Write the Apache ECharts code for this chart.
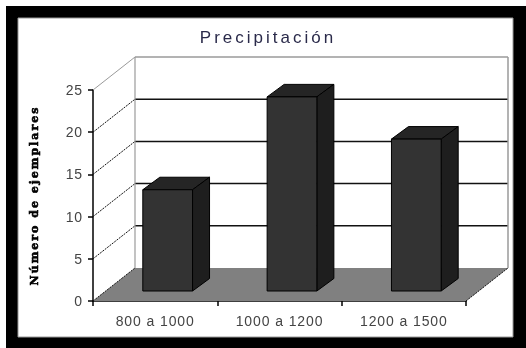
<!DOCTYPE html>
<html><head><meta charset="utf-8">
<style>
html,body{margin:0;padding:0;background:#fff}
#c{width:526px;height:348px;filter:blur(0.6px)}
#c text[style*="17px"]{letter-spacing:3px}
#c text[style*="14px"]{letter-spacing:0.9px}
#c text[style*="11px"]{letter-spacing:2px}
</style>
<script src="https://cdn.jsdelivr.net/npm/echarts@6/dist/echarts.min.js"></script>
</head><body><div id="c"></div>
<script>
const titleText = 'Precipitación';
const yName = 'Número de ejemplares';
const categories = ['800 a 1000', '1000 a 1200', '1200 a 1500'];
const counts = [12, 23, 18];
const yTicks = [0, 5, 10, 15, 20, 25];

const wallDx = 42, wallDy = 33, barDx = 17, barDy = 12.5, barShiftX = 12.5, barShiftY = 10;
const chart = echarts.init(document.getElementById('c'), null, {renderer: 'svg'});

function floorItem(params, api) {
  const g = params.coordSys, b = g.y + g.height, r = g.x + g.width;
  return {type: 'polygon', shape: {points: [[g.x, b], [g.x + wallDx, b - wallDy], [r + wallDx, b - wallDy], [r, b]]},
    style: {fill: '#808080', stroke: null}};
}
function wallItem(params, api) {
  const g = params.coordSys;
  const v = api.value(0), y = api.coord([0, v])[1];
  const top = v === yTicks[yTicks.length - 1];
  const color = top ? '#9a9a9a' : '#111';
  const children = [
    {type: 'line', shape: {x1: g.x, y1: y, x2: g.x + wallDx, y2: y - wallDy}, style: {stroke: color, lineWidth: 1, lineDash: top ? null : [2, 1]}}
  ];
  if (v !== yTicks[0]) children.push({type: 'line', shape: {x1: g.x + wallDx, y1: y - wallDy, x2: g.x + g.width + wallDx, y2: y - wallDy},
    style: {stroke: color, lineWidth: top ? 1.5 : 1.5}});
  if (v === yTicks[0]) children.push({type: 'line', shape: {x1: g.x + g.width, y1: y, x2: g.x + g.width + wallDx, y2: y - wallDy},
    style: {stroke: '#111', lineWidth: 1, lineDash: [2, 1]}});
  if (top) {
    children.push({type: 'line', shape: {x1: g.x + wallDx, y1: y - wallDy, x2: g.x + wallDx, y2: g.y + g.height - wallDy}, style: {stroke: '#9a9a9a', lineWidth: 1.2}});
    children.push({type: 'line', shape: {x1: g.x + g.width + wallDx, y1: y - wallDy, x2: g.x + g.width + wallDx, y2: g.y + g.height - wallDy}, style: {stroke: '#9a9a9a', lineWidth: 1.5}});
  }
  return {type: 'group', children};
}
function barItem(params, api) {
  const c = api.coord([api.value(0), api.value(1)]);
  const base = api.coord([api.value(0), 0])[1] - barShiftY;
  const w = api.size([1, 0])[0] * 0.4;
  const x0 = c[0] + barShiftX - w / 2, x1 = x0 + w, t = c[1] - barShiftY;
  const edge = {stroke: '#000', lineWidth: 1};
  return {type: 'group', children: [
    {type: 'polygon', shape: {points: [[x0, t], [x0 + barDx, t - barDy], [x1 + barDx, t - barDy], [x1, t]]}, style: {fill: '#252525', ...edge}},
    {type: 'polygon', shape: {points: [[x1, t], [x1 + barDx, t - barDy], [x1 + barDx, base - barDy], [x1, base]]}, style: {fill: '#1e1e1e', ...edge}},
    {type: 'rect', shape: {x: x0, y: t, width: w, height: base - t}, style: {fill: '#333333', ...edge}}
  ]};
}

chart.setOption({
  animation: false,
  backgroundColor: '#fff',
  graphic: [
    {type: 'rect', z: -10, shape: {x: 6, y: 6, width: 520, height: 342}, style: {fill: '#000'}},
    {type: 'rect', z: -9, shape: {x: 18, y: 18, width: 495, height: 319}, style: {fill: '#fff', stroke: '#999', lineWidth: 1}}
  ],
  title: {text: titleText, left: 263, top: 24, textAlign: 'center',
    textStyle: {fontFamily: 'Liberation Sans', fontSize: 17, fontWeight: 'normal', color: '#2a2a4a'}},
  grid: {left: 93, right: 60, top: 90, bottom: 47},
  xAxis: {type: 'category', data: categories,
    axisLine: {lineStyle: {color: '#000', width: 1.5}},
    axisTick: {show: true, length: 5, lineStyle: {color: '#000', width: 1.5}},
    axisLabel: {fontFamily: 'Liberation Sans', fontSize: 14, color: '#444', margin: 13}},
  yAxis: {type: 'value', min: 0, max: 25, interval: 5,
    name: yName, nameLocation: 'middle', nameRotate: 90, nameGap: 53,
    nameTextStyle: {fontFamily: 'DejaVu Serif', fontSize: 11, fontWeight: 'bold', color: '#000', textBorderColor: '#000', textBorderWidth: 0.6},
    splitLine: {show: false},
    axisLine: {show: true, lineStyle: {color: '#000', width: 1.5}},
    axisTick: {show: true, length: 5, lineStyle: {color: '#000', width: 1.5}},
    axisLabel: {fontFamily: 'Liberation Sans', fontSize: 14, color: '#444', margin: 10}},
  series: [
    {type: 'custom', z: 1, silent: true, renderItem: floorItem, data: [[0]], encode: {y: 0}},
    {type: 'custom', z: 2, silent: true, renderItem: wallItem, data: yTicks.map(v => [v]), encode: {y: 0}},
    {type: 'custom', z: 3, silent: true, renderItem: barItem, data: categories.map((c, i) => [c, counts[i]]), encode: {x: 0, y: 1}}
  ]
});
</script></body></html>
